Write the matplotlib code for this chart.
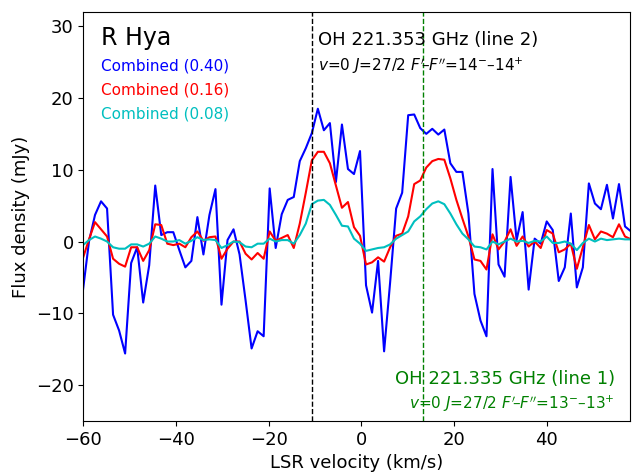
import numpy as np
import matplotlib
matplotlib.use("Agg")
import matplotlib.pyplot as plt

# Channel grid of the spectra (km/s), regular spacing.
v_start, v_step, n_chan = -60.1, 1.30, 92
velocity = v_start + v_step * np.arange(n_chan)

# Flux density (mJy), one value per channel.
flux_040 = [
    -6.8, 0.0, 3.7, 5.6, 4.6, -10.2, -12.4, -15.6, -3.0, -0.8,
    -8.5, -3.3, 7.8, 0.9, 1.3, 1.3, -1.2, -3.6, -2.7, 3.4,
    -1.8, 3.7, 7.3, -8.8, 0.2, 1.7, -1.8, -8.2, -14.9, -12.5,
    -13.2, 7.4, -0.9, 3.8, 5.8, 6.2, 11.2, 13.0, 15.1, 18.5,
    15.5, 16.5, 8.3, 16.3, 10.1, 9.4, 12.6, -6.1, -9.9, -2.7,
    -15.3, -5.7, 4.6, 6.8, 17.6, 17.7, 15.8, 15.0, 15.7, 14.9,
    15.6, 10.9, 9.7, 9.7, 3.9, -7.3, -11.0, -13.2, 10.1, -3.2,
    -4.9, 9.0, 0.2, 4.1, -6.7, 0.4, -0.3, 2.8, 1.6, -5.5,
    -3.6, 3.9, -6.4, -3.6, 8.1, 5.3, 4.5, 7.9, 3.2, 8.0,
    2.1, 1.4,
]
flux_016 = [
    -2.3, 0.3, 2.7, 1.7, 0.7, -2.4, -3.1, -3.5, -0.8, -0.8,
    -2.7, -1.2, 2.4, 2.3, -0.3, -0.5, -0.3, -0.8, 0.6, 1.4,
    0.1, 0.6, 0.7, -2.4, -1.0, 0.0, 0.0, -1.7, -2.5, -1.6,
    -2.4, 1.4, 0.1, 0.5, 0.9, -0.9, 2.5, 6.8, 11.3, 12.5,
    12.5, 10.9, 7.8, 4.7, 5.5, 2.0, 0.8, -3.2, -2.9, -2.2,
    -2.8, -0.8, 0.8, 1.1, 3.5, 8.0, 8.5, 10.3, 11.2, 11.5,
    11.4, 8.8, 5.8, 3.2, 0.7, -2.5, -2.7, -3.9, 1.0, -1.1,
    0.0, 1.7, -0.6, 0.7, -0.7, 0.0, -0.9, 1.6, 1.1, -1.5,
    -1.1, -0.3, -3.8, -0.8, 2.3, 0.3, 1.4, 1.1, 0.6, 2.4,
    0.7, 0.3,
]
flux_008 = [
    -0.5, 0.2, 0.7, 0.4, 0.0, -0.8, -1.0, -1.0, -0.4, -0.4,
    -0.7, -0.3, 0.7, 0.4, 0.0, 0.0, 0.2, -0.3, 0.1, 0.6,
    0.2, 0.3, 0.2, -0.9, -0.5, 0.0, -0.1, -0.7, -0.8, -0.3,
    -0.3, 0.4, 0.0, 0.2, 0.2, -0.3, 0.9, 2.5, 5.2, 5.7,
    5.8, 5.1, 3.7, 2.2, 2.1, 0.4, -0.3, -1.3, -1.1, -0.9,
    -0.8, -0.4, 0.4, 0.9, 1.4, 2.8, 3.5, 4.5, 5.3, 5.6,
    5.2, 3.9, 2.4, 1.1, 0.3, -0.7, -0.8, -1.1, 0.0, -0.4,
    0.0, 0.4, 0.0, 0.1, -0.2, 0.1, 0.0, 0.7, -0.2, -0.2,
    0.0, -0.3, -1.2, -0.2, 0.4, 0.0, 0.4, 0.2, 0.3, 0.4,
    0.3, 0.3,
]

series_labels = ["Combined (0.40)", "Combined (0.16)", "Combined (0.08)"]
series_colors = ["blue", "red", "c"]

# Line positions (km/s) of the two OH transitions.
v_line2 = -10.6
v_line1 = 13.3

fig = plt.figure(figsize=(6.32, 4.73), dpi=100)
ax = fig.add_axes([0.132, 0.110, 0.865, 0.865])

for flux, col in zip([flux_040, flux_016, flux_008], series_colors):
    ax.plot(velocity, flux, color=col, lw=1.5)

ax.axvline(v_line2, color="black", ls="--", lw=1.0)
ax.axvline(v_line1, color="green", ls="--", lw=1.0)

ax.text(0.033, 0.935, "R Hya", transform=ax.transAxes, fontsize=17,
        ha="left", va="center")
for k, (lab, col) in enumerate(zip(series_labels, series_colors)):
    ax.text(0.033, 0.868 - 0.059 * k, lab, transform=ax.transAxes,
            fontsize=11, color=col, ha="left", va="center")

ax.text(0.43, 0.932, "OH 221.353 GHz (line 2)", transform=ax.transAxes,
        fontsize=13, ha="left", va="center")
ax.text(0.43, 0.868, r"$v$=0 $J$=27/2 $F'$$\!$–$F''$=14$^{-}$–14$^{+}$",
        transform=ax.transAxes, fontsize=11, ha="left", va="center")

ax.text(0.972, 0.103, "OH 221.335 GHz (line 1)", transform=ax.transAxes,
        fontsize=13, color="green", ha="right", va="center")
ax.text(0.972, 0.042, r"$v$=0 $J$=27/2 $F'$$\!$–$F''$=13$^{-}$–13$^{+}$",
        transform=ax.transAxes, fontsize=11, color="green", ha="right",
        va="center")

ax.set_xlim(-60, 58)
ax.set_ylim(-25, 32)
ax.set_xticks([-60, -40, -20, 0, 20, 40])
ax.tick_params(labelsize=13)
ax.set_xlabel("LSR velocity (km/s)", fontsize=13)
ax.set_ylabel("Flux density (mJy)", fontsize=13)

fig.savefig("out.png", dpi=100, facecolor="white")
